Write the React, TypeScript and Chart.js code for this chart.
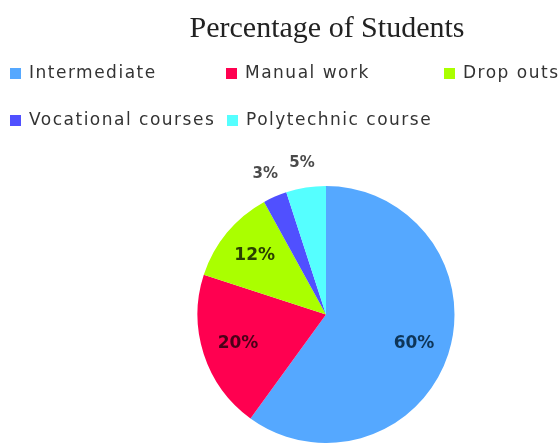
import React, { useEffect, useRef } from 'react';
import { Chart, registerables } from 'chart.js';

Chart.register(...registerables);

const titleText = 'Percentage of Students';
const categories = ['Intermediate', 'Manual work', 'Drop outs', 'Vocational courses', 'Polytechnic course'];
const percentages = [60, 20, 12, 3, 5];
const sliceColors = ['#55A8FF', '#FF0050', '#AAFF00', '#5050FF', '#55FFFF'];
const labelColors = ['#0E3558', '#4A0018', '#2A4000', '#4A4A4A', '#4A4A4A'];

// legend layout slots (x of swatch, y centre)
const legendSlots = [
  [10, 73],
  [226, 73],
  [444, 73],
  [10, 120],
  [227, 120],
];

const overlayPlugin = {
  id: 'overlay',
  afterDraw(chart: any) {
    const ctx = chart.ctx as CanvasRenderingContext2D;
    ctx.save();
    // title
    ctx.font = '30px "Liberation Serif", "Times New Roman", serif';
    ctx.fillStyle = '#222222';
    ctx.textAlign = 'center';
    ctx.textBaseline = 'alphabetic';
    ctx.fillText(titleText, 327, 37);

    // legend
    const labels: string[] = chart.data.labels;
    const bg: string[] = chart.data.datasets[0].backgroundColor;
    ctx.font = '17px "DejaVu Sans", sans-serif';
    (ctx as any).letterSpacing = '1.5px';
    ctx.textAlign = 'left';
    ctx.textBaseline = 'middle';
    labels.forEach((lab, i) => {
      const [x, y] = legendSlots[i];
      ctx.fillStyle = bg[i];
      ctx.fillRect(x, y - 5, 11, 11);
      ctx.fillStyle = '#333333';
      ctx.fillText(lab, x + 19, y + 1);
    });
    (ctx as any).letterSpacing = '0px';

    // slice labels
    const meta = chart.getDatasetMeta(0);
    const values: number[] = chart.data.datasets[0].data;
    ctx.textAlign = 'center';
    ctx.textBaseline = 'middle';
    meta.data.forEach((arc: any, i: number) => {
      const p = arc.getProps(['x', 'y', 'startAngle', 'endAngle', 'outerRadius'], true);
      const mid = (p.startAngle + p.endAngle) / 2;
      const inside = values[i] >= 10;
      const r = inside ? p.outerRadius * 0.72 : p.outerRadius * 1.19;
      const tx = p.x + Math.cos(mid) * r;
      const ty = p.y + Math.sin(mid) * r;
      ctx.font = inside ? 'bold 17px "DejaVu Sans", sans-serif' : 'bold 15px "DejaVu Sans", sans-serif';
      ctx.fillStyle = labelColors[i];
      ctx.fillText(values[i] + '%', tx, ty);
    });
    ctx.restore();
  },
};

export default function App() {
  const ref = useRef<HTMLCanvasElement | null>(null);
  useEffect(() => {
    if (!ref.current) return;
    const chart = new Chart(ref.current, {
      type: 'pie',
      data: {
        labels: categories,
        datasets: [
          {
            data: percentages,
            backgroundColor: sliceColors,
            borderWidth: 0,
          },
        ],
      },
      options: {
        responsive: false,
        animation: false,
        events: [],
        layout: { padding: { top: 186, bottom: 0, left: 150, right: 57 } },
        plugins: {
          legend: { display: false },
          title: { display: false },
          tooltip: { enabled: false },
        },
      },
      plugins: [overlayPlugin],
    });
    return () => chart.destroy();
  }, []);
  return (
    <div style={{ position: 'fixed', left: 0, top: 0, width: 559, height: 443, background: '#fff' }}>
      <canvas ref={ref} width={559} height={443} style={{ display: 'block' }} />
    </div>
  );
}
